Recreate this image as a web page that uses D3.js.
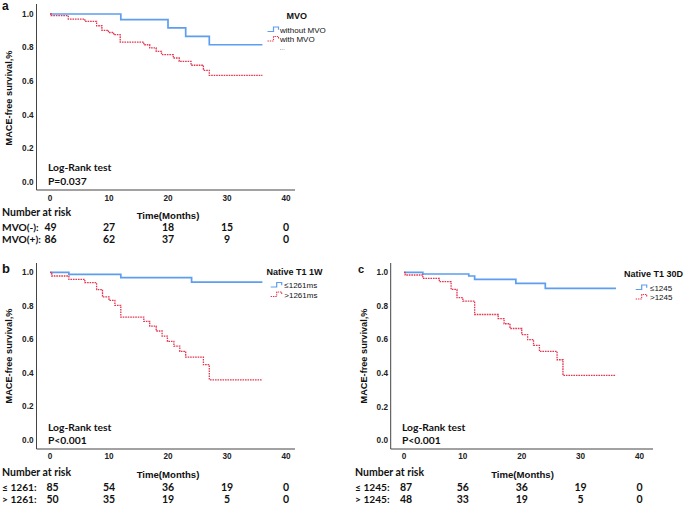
<!DOCTYPE html>
<html><head><meta charset="utf-8">
<script src="https://cdn.jsdelivr.net/npm/d3@7"></script>
<style>body{margin:0;background:#fff}svg{display:block}</style>
</head><body>
<svg id="chart" width="685" height="505"></svg>
<script>
// ---------- data ----------
const xTicks = [0, 10, 20, 30, 40];
const yTicks = [0, 0.2, 0.4, 0.6, 0.8, 1.0];

// Panel a: MVO
const aLowT  = [0, 12, 20, 23, 27, 36];
const aLowS  = [1, 0.966, 0.917, 0.867, 0.817, 0.817];
const aHighT = [0, 0.2, 3.1, 5.9, 7.9, 8.8, 9.9, 10.8, 11.9, 15.9, 16.9, 18, 18.9, 20.9, 21.9, 23.9, 26, 27, 36];
const aHighS = [1, 0.99, 0.97, 0.956, 0.93, 0.903, 0.89, 0.877, 0.833, 0.817, 0.798, 0.778, 0.758, 0.738, 0.718, 0.695, 0.665, 0.635, 0.635];
const aRiskLow  = [49, 27, 18, 15, 0];
const aRiskHigh = [86, 62, 37, 9, 0];

// Panel b: Native T1 1W
const bLowT  = [0, 3.2, 12, 24, 36];
const bLowS  = [1, 0.988, 0.968, 0.942, 0.942];
const bHighT = [0, 0.3, 3.2, 5.9, 7.9, 8.9, 10, 11, 12, 15.9, 16.9, 18, 19, 19.9, 21, 22, 23, 26, 27, 36];
const bHighS = [1, 0.978, 0.958, 0.938, 0.897, 0.853, 0.833, 0.803, 0.733, 0.707, 0.679, 0.65, 0.62, 0.588, 0.56, 0.528, 0.494, 0.449, 0.359, 0.359];
const bRiskLow  = [85, 54, 36, 19, 0];
const bRiskHigh = [50, 35, 19, 5, 0];

// Panel c: Native T1 30D
const cLowT  = [0, 3.2, 11, 12, 19, 24, 36];
const cLowS  = [1, 0.99, 0.978, 0.958, 0.934, 0.904, 0.904];
const cHighT = [0, 0.2, 3.2, 6, 8, 9, 10, 12, 16, 17, 18, 20, 21, 22, 23, 26, 27, 36];
const cHighS = [1, 0.984, 0.964, 0.944, 0.898, 0.849, 0.829, 0.749, 0.725, 0.694, 0.666, 0.63, 0.6, 0.566, 0.53, 0.48, 0.387, 0.387];
const cRiskLow  = [87, 56, 36, 19, 0];
const cRiskHigh = [48, 33, 19, 5, 0];

// ---------- drawing ----------
const svg = d3.select("#chart");
const BLUE = "#5d9eee", RED = "#e6344f";
const SANS = "'Liberation Sans', Arial, sans-serif";
const CAL = "Lato, 'Open Sans', sans-serif";

const panels = [
  {letter:"a", lx:2, ly:10, lsize:12,
   ax:36.5, x0:50, x40:286, xEnd:295, y0:182, y1:14, yTop:4, axY:190,
   tickX:33.5, tickLY:200.5, ylabX:12, ylabY:98,
   lrY:170.5, pY:184.5, lrX:48,
   timeX:168, timeY:218.5, narX:2, narY:216, r1Y:230.5, r2Y:243, firstShift:0.5,
   low:[aLowT,aLowS], high:[aHighT,aHighS], risk:[aRiskLow,aRiskHigh],
   rowLab:["MVO(-):","MVO(+):"], pText:"P=0.037",
   leg:{title:"MVO", tx:286.5, ty:19, tsize:9, sx:267.5, tX:280, y1:32.5, y2:42, items:["without MVO","with MVO"], dots:true}},
  {letter:"b", lx:2, ly:273, lsize:13,
   ax:36.5, x0:50, x40:286, xEnd:295, y0:440, y1:272.3, yTop:263, axY:449,
   tickX:33.5, tickLY:459, ylabX:12, ylabY:356,
   lrY:430.5, pY:443.5, lrX:48,
   timeX:168, timeY:477.5, narX:2, narY:476, r1Y:490.5, r2Y:503, firstShift:2.5,
   low:[bLowT,bLowS], high:[bHighT,bHighS], risk:[bRiskLow,bRiskHigh],
   rowLab:["≤ 1261:","> 1261:"], pText:"P<0.001",
   leg:{title:"Native T1 1W", tx:266.5, ty:275, tsize:9, sx:270.7, tX:284.3, y1:288, y2:297.5, items:["≤1261ms",">1261ms"], dots:false}},
  {letter:"c", lx:358, ly:272.5, lsize:11,
   ax:390.7, x0:404, x40:639.5, xEnd:653, y0:440.5, y1:272.3, yTop:263, axY:449,
   tickX:388, tickLY:459, ylabX:366.5, ylabY:356,
   lrY:430.5, pY:443.5, lrX:402,
   timeX:522.5, timeY:477.5, narX:355, narY:476, r1Y:490.5, r2Y:503, firstShift:2,
   low:[cLowT,cLowS], high:[cHighT,cHighS], risk:[cRiskLow,cRiskHigh],
   rowLab:["≤ 1245:","> 1245:"], pText:"P<0.001",
   leg:{title:"Native T1 30D", tx:624, ty:277.3, tsize:9, sx:635.7, tX:650, y1:290.5, y2:300, items:["≤1245",">1245"], dots:false}}
];

panels.forEach(p => {
  const g = svg.append("g");
  const x = d3.scaleLinear().domain([0, 40]).range([p.x0, p.x40]);
  const y = d3.scaleLinear().domain([0, 1]).range([p.y0, p.y1]);

  // panel letter
  g.append("text").attr("x", p.lx).attr("y", p.ly).text(p.letter)
    .attr("font-family", SANS).attr("font-weight", "bold").attr("font-size", p.lsize).attr("fill", "#111");

  // axis lines
  g.append("line").attr("x1", p.ax).attr("x2", p.ax).attr("y1", p.yTop).attr("y2", p.axY)
    .attr("stroke", "#444").attr("stroke-width", 1);
  g.append("line").attr("x1", p.ax).attr("x2", p.xEnd).attr("y1", p.axY).attr("y2", p.axY)
    .attr("stroke", "#444").attr("stroke-width", 1);

  // y tick labels
  g.selectAll(".yt").data(yTicks).enter().append("text")
    .attr("x", p.tickX).attr("y", d => y(d)).attr("dy", "0.35em")
    .attr("text-anchor", "end").text(d => d3.format(".1f")(d))
    .attr("font-family", SANS).attr("font-weight", "bold").attr("font-size", 8.2).attr("fill", "#222");

  // x tick labels
  g.selectAll(".xt").data(xTicks).enter().append("text")
    .attr("x", d => x(d)).attr("y", p.tickLY)
    .attr("text-anchor", "middle").text(d => d)
    .attr("font-family", SANS).attr("font-weight", "bold").attr("font-size", 8.2).attr("fill", "#222");

  // y label
  g.append("text").attr("transform", `translate(${p.ylabX},${p.ylabY}) rotate(-90)`)
    .attr("text-anchor", "middle").text("MACE-free survival,%")
    .attr("font-family", SANS).attr("font-weight", "bold").attr("font-size", 9.2).attr("fill", "#111");

  // x label
  g.append("text").attr("x", p.timeX).attr("y", p.timeY).attr("text-anchor", "middle")
    .text("Time(Months)").attr("font-family", SANS).attr("font-weight", "bold")
    .attr("font-size", 9.6).attr("fill", "#111");

  // curves
  const line = d3.line().curve(d3.curveStepAfter).x(d => x(d[0])).y(d => y(d[1]));
  const lowPts = p.low[0].map((t, i) => [t, p.low[1][i]]);
  const highPts = p.high[0].map((t, i) => [t, p.high[1][i]]);
  g.append("path").attr("d", line(lowPts)).attr("fill", "none")
    .attr("stroke", BLUE).attr("stroke-width", 1.7);
  g.append("path").attr("d", line(highPts)).attr("fill", "none")
    .attr("stroke", RED).attr("stroke-width", 1.3).attr("stroke-dasharray", "1.6,0.9");

  // log-rank
  g.append("text").attr("x", p.lrX).attr("y", p.lrY).text("Log-Rank test")
    .attr("font-family", CAL).attr("font-weight", 700).attr("font-size", 10.3).attr("fill", "#111");
  g.append("text").attr("x", p.lrX).attr("y", p.pY).text(p.pText)
    .attr("font-family", CAL).attr("font-weight", 700).attr("font-size", 10.3).attr("fill", "#111");

  // number at risk
  g.append("text").attr("x", p.narX).attr("y", p.narY).text("Number at risk")
    .attr("font-family", CAL).attr("font-weight", 700).attr("font-size", 10.5).attr("fill", "#111");
  [p.r1Y, p.r2Y].forEach((ry, k) => {
    g.append("text").attr("x", p.narX).attr("y", ry).text(p.rowLab[k])
      .attr("font-family", CAL).attr("font-weight", 700).attr("font-size", 10.2).attr("fill", "#111");
    g.selectAll(".rk" + k).data(p.risk[k]).enter().append("text")
      .attr("x", (d, i) => x(xTicks[i]) + (i === 0 ? p.firstShift : 0)).attr("y", ry)
      .attr("text-anchor", "middle").text(d => d)
      .attr("font-family", CAL).attr("font-weight", 700).attr("font-size", 10.5).attr("fill", "#111");
  });

  // legend
  const L = p.leg;
  g.append("text").attr("x", L.tx).attr("y", L.ty).text(L.title)
    .attr("font-family", SANS).attr("font-weight", "bold").attr("font-size", L.tsize).attr("fill", "#111");
  const sym = (sx, by) => `M${sx},${by} H${sx + 6} V${by - 4.5} H${sx + 11} V${by - 1.8}`;
  g.append("path").attr("d", sym(L.sx, L.y1 - 1)).attr("fill", "none").attr("stroke", BLUE).attr("stroke-width", 1.2);
  g.append("path").attr("d", sym(L.sx, L.y2 - 1)).attr("fill", "none").attr("stroke", RED)
    .attr("stroke-width", 1.1).attr("stroke-dasharray", "1.4,0.9");
  [L.y1, L.y2].forEach((ty, k) => {
    g.append("text").attr("x", L.tX).attr("y", ty).text(L.items[k])
      .attr("font-family", SANS).attr("font-size", 8).attr("fill", "#111");
  });
  if (L.dots) {
    g.append("line").attr("x1", L.tX).attr("x2", L.tX + 4.5).attr("y1", L.y2 + 7.5).attr("y2", L.y2 + 7.5)
      .attr("stroke", "#999").attr("stroke-width", 0.8).attr("stroke-dasharray", "0.8,1");
  }
});
</script>
</body></html>
